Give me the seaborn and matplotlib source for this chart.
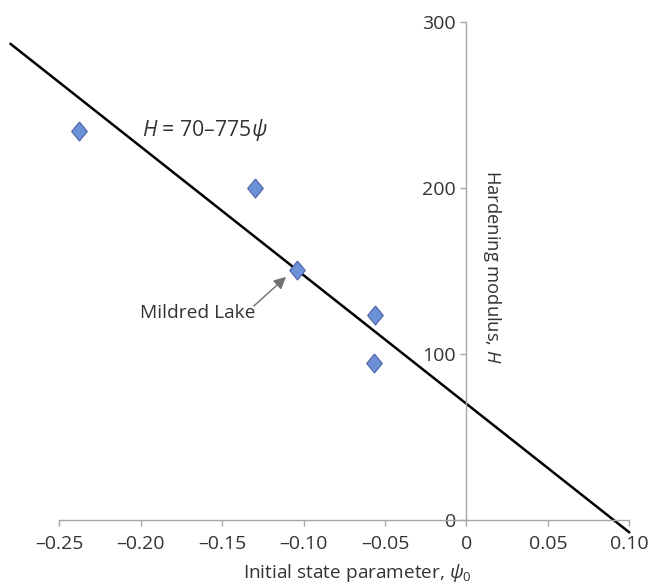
import matplotlib
matplotlib.use("Agg")
import matplotlib.pyplot as plt
import seaborn as sns
import numpy as np
import pandas as pd

# ---- data ----
psi0 = [-0.238, -0.130, -0.104, -0.056, -0.057]
hardening = [234.7, 200.3, 150.7, 123.6, 94.8]
fit_intercept = 70
fit_slope = -775
fit_psi = [-0.280, 0.100]
x_ticks = [-0.25, -0.20, -0.15, -0.10, -0.05, 0.0, 0.05, 0.10]
x_tick_labels = ["–0.25", "–0.20", "–0.15", "–0.10", "–0.05", "0", "0.05", "0.10"]
y_ticks = [0, 100, 200, 300]
y_tick_labels = ["0", "100", "200", "300"]

sns.set_theme(style="white")
plt.rcParams["font.family"] = ["Open Sans", "DejaVu Sans"]
plt.rcParams["mathtext.fontset"] = "custom"
plt.rcParams["mathtext.rm"] = "Open Sans"
plt.rcParams["mathtext.it"] = "Open Sans:italic"
plt.rcParams["mathtext.bf"] = "Open Sans:bold"

TXT = "#333333"
GRID = "#a6a6a6"

fig = plt.figure(figsize=(6.59, 5.84), dpi=100)
ax = fig.add_axes([0, 0, 1, 1])
ax.set_xlim(-0.2864, 0.1182)
ax.set_ylim(-38.6, 313.4)

df = pd.DataFrame({"psi": psi0, "H": hardening})
line_df = pd.DataFrame({"psi": fit_psi,
                        "H": [fit_intercept + fit_slope * p for p in fit_psi]})

diamond = [(0, 1), (0.82, 0), (0, -1), (-0.82, 0), (0, 1)]

sns.lineplot(data=line_df, x="psi", y="H", ax=ax, color="black", lw=1.8, zorder=2)
sns.scatterplot(data=df, x="psi", y="H", ax=ax, marker=diamond, s=185,
                color="#6d91d8", edgecolor="#5468ad", linewidth=0.9, zorder=3)

# spines
for s in ["top", "right"]:
    ax.spines[s].set_visible(False)
ax.spines["left"].set_position(("data", 0))
ax.spines["bottom"].set_position(("data", 0))
ax.spines["left"].set_bounds(0, 300)
ax.spines["bottom"].set_bounds(-0.25, 0.10)
for s in ["left", "bottom"]:
    ax.spines[s].set_color(GRID)
    ax.spines[s].set_linewidth(1.0)

ax.set_xticks(x_ticks)
ax.set_xticklabels(x_tick_labels)
ax.set_yticks(y_ticks)
ax.set_yticklabels(y_tick_labels)
ax.tick_params(axis="both", direction="out", length=4.5, width=1.0, color=GRID,
               labelsize=14, labelcolor=TXT)
ax.tick_params(axis="x", pad=6, bottom=True)
ax.tick_params(axis="y", pad=3, left=True)

ax.set_xlabel(r"Initial state parameter, $\psi_0$", fontsize=13.7, color=TXT)
ax.xaxis.set_label_coords(357 / 659, (584 - 573) / 584)
ax.xaxis.label.set_verticalalignment("center")
ax.set_ylabel(r"Hardening modulus, $H$", fontsize=13.2, color=TXT, rotation=270)
ax.yaxis.set_label_coords(492 / 659, (584 - 267) / 584)
ax.yaxis.label.set_verticalalignment("center")

ax.text(-0.1994, 235.1, r"$H$ = 70–775$\psi$", fontsize=15.3, color=TXT,
        ha="left", va="center")

ax.text(-0.1649, 124.8, "Mildred Lake", fontsize=13.8, color=TXT,
        ha="center", va="center")
ax.annotate("", xy=(-0.1108, 146.5), xytext=(-0.1305, 129.0),
            arrowprops=dict(arrowstyle="-|>,head_length=0.6,head_width=0.3",
                            color="#707070", lw=1.0, shrinkA=0, shrinkB=0))

fig.savefig("out.png", dpi=100)
